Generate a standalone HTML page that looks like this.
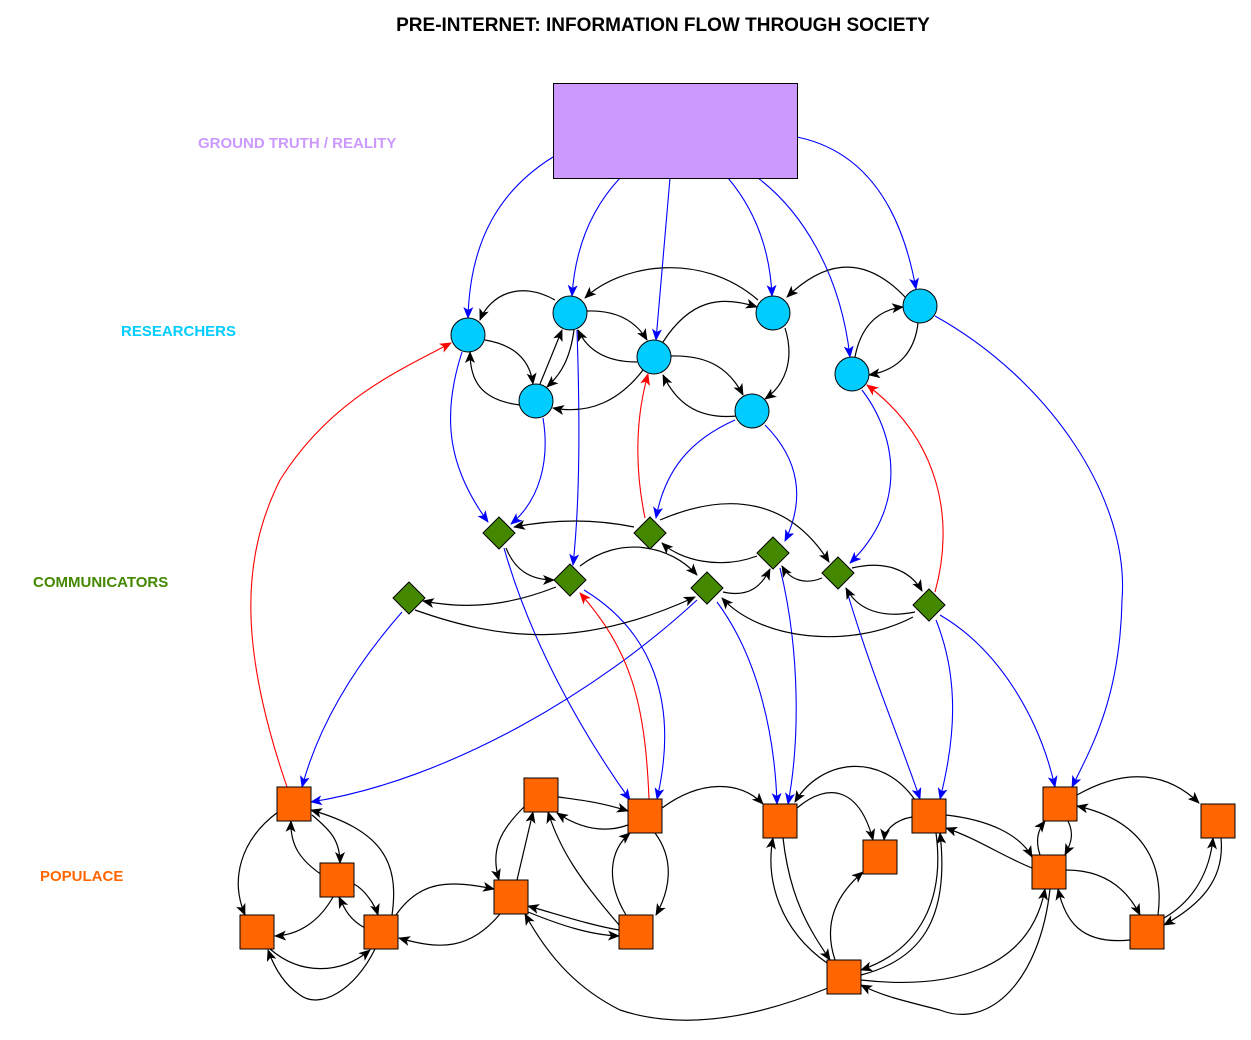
<!DOCTYPE html>
<html><head><meta charset="utf-8"><style>
body{margin:0;background:#fff}
svg{display:block}
text{font-family:"Liberation Sans",sans-serif;font-weight:bold}
</style></head><body>
<svg width="1251" height="1040" viewBox="0 0 1251 1040" xmlns="http://www.w3.org/2000/svg">
<defs>
<marker id="ak" viewBox="0 0 12 10" refX="11" refY="5" markerWidth="12" markerHeight="10" markerUnits="userSpaceOnUse" orient="auto"><path d="M0,0 L12,5 L0,10 L3,5 z" fill="#000"/></marker>
<marker id="ab" viewBox="0 0 12 10" refX="11" refY="5" markerWidth="12" markerHeight="10" markerUnits="userSpaceOnUse" orient="auto"><path d="M0,0 L12,5 L0,10 L3,5 z" fill="#00f"/></marker>
<marker id="ar" viewBox="0 0 12 10" refX="11" refY="5" markerWidth="12" markerHeight="10" markerUnits="userSpaceOnUse" orient="auto"><path d="M0,0 L12,5 L0,10 L3,5 z" fill="#f00"/></marker>
</defs>
<rect width="1251" height="1040" fill="#fff"/>
<text x="663" y="31" font-size="19" text-anchor="middle" fill="#000">PRE-INTERNET: INFORMATION FLOW THROUGH SOCIETY</text>
<text x="198" y="148" font-size="15" fill="#cc99ff">GROUND TRUTH / REALITY</text>
<text x="121" y="336" font-size="15" fill="#00ccff">RESEARCHERS</text>
<text x="33" y="587" font-size="15" fill="#448800">COMMUNICATORS</text>
<text x="40" y="881" font-size="15" fill="#ff6600">POPULACE</text>

<g fill="none" stroke="#00f" stroke-width="1.1" marker-end="url(#ab)">
<path d="M553,157 C500,190 470,240 468,318"/>
<path d="M620,178 C590,210 575,250 572,296"/>
<path d="M670,178 L656,340"/>
<path d="M728,178 C755,210 770,250 772,296"/>
<path d="M758,178 C800,210 840,270 850,357"/>
<path d="M797,137 C860,150 900,200 916,289"/>
<path d="M462,352 C440,420 450,470 488,522"/>
<path d="M543,418 C550,460 540,500 511,524"/>
<path d="M577,330 C580,420 580,500 573,565"/>
<path d="M735,420 C690,440 665,470 656,518"/>
<path d="M765,425 C800,460 805,500 785,541"/>
<path d="M862,390 C900,440 905,510 850,563"/>
<path d="M935,316 C1050,380 1130,500 1122,600 C1120,700 1090,750 1072,787"/>
<path d="M402,612 C360,660 320,720 302,787"/>
<path d="M697,600 C600,690 450,780 311,802"/>
<path d="M504,548 C530,640 580,730 630,800"/>
<path d="M584,590 C650,630 680,700 657,799"/>
<path d="M717,602 C760,660 775,740 777,804"/>
<path d="M780,568 C800,650 800,740 788,804"/>
<path d="M846,588 C870,670 900,740 920,799"/>
<path d="M936,620 C960,680 955,740 940,799"/>
<path d="M940,615 C1000,650 1040,720 1055,787"/>
</g>
<g fill="none" stroke="#f00" stroke-width="1.1" marker-end="url(#ar)">
<path d="M645,518 C635,470 635,420 648,374"/>
<path d="M935,592 C955,520 940,440 867,385"/>
<path d="M287,787 C240,650 240,560 280,480 C330,400 400,370 451,343"/>
<path d="M649,799 C645,700 630,650 580,593"/>
</g>
<g fill="none" stroke="#000" stroke-width="1.2" marker-end="url(#ak)">
<path d="M555,300 C520,280 490,295 480,320"/>
<path d="M485,340 C515,345 530,360 533,384"/>
<path d="M520,405 C480,400 470,380 470,352"/>
<path d="M540,384 L562,330"/>
<path d="M574,330 C570,360 560,375 547,387"/>
<path d="M643,370 C620,400 590,415 553,408"/>
<path d="M587,311 C615,310 635,320 647,340"/>
<path d="M637,362 C600,362 585,345 578,330"/>
<path d="M663,342 C690,300 720,295 757,307"/>
<path d="M758,300 C700,250 620,265 585,298"/>
<path d="M671,356 C710,355 730,370 743,395"/>
<path d="M737,416 C695,420 675,400 663,375"/>
<path d="M785,328 C795,360 785,385 765,399"/>
<path d="M905,297 C860,250 820,265 787,297"/>
<path d="M855,357 C860,330 875,310 903,307"/>
<path d="M918,323 C915,350 900,370 869,375"/>
<path d="M634,527 C600,520 560,518 514,527"/>
<path d="M506,548 C515,570 530,580 554,580"/>
<path d="M660,520 C730,490 790,500 829,562"/>
<path d="M757,556 C720,570 680,560 662,543"/>
<path d="M580,566 C620,535 670,545 697,575"/>
<path d="M723,592 C750,598 762,585 770,569"/>
<path d="M822,578 C805,585 790,580 782,566"/>
<path d="M852,568 C885,560 910,570 922,591"/>
<path d="M915,612 C875,620 855,605 846,588"/>
<path d="M556,587 C510,605 470,610 423,601"/>
<path d="M415,610 C500,640 580,650 695,597"/>
<path d="M913,617 C850,650 760,640 722,598"/>
<path d="M312,815 C330,830 340,840 340,863"/>
<path d="M322,875 C300,860 290,845 291,821"/>
<path d="M278,812 C240,840 230,880 245,915"/>
<path d="M333,897 C320,920 300,935 275,936"/>
<path d="M354,884 C365,890 375,905 378,915"/>
<path d="M392,915 C400,860 380,830 311,810"/>
<path d="M365,928 C350,920 345,910 339,897"/>
<path d="M270,949 C300,975 340,975 370,950"/>
<path d="M375,949 C355,990 320,1010 300,995 C285,985 275,970 268,950"/>
<path d="M396,915 C420,880 450,880 494,889"/>
<path d="M500,914 C470,950 440,950 399,938"/>
<path d="M526,805 C500,830 490,850 499,880"/>
<path d="M517,880 L533,812"/>
<path d="M558,797 C580,800 600,802 628,811"/>
<path d="M628,825 C600,835 575,825 557,813"/>
<path d="M620,926 C580,880 560,850 548,812"/>
<path d="M626,915 C605,880 610,850 630,833"/>
<path d="M655,833 C675,860 670,890 656,915"/>
<path d="M619,930 C590,925 560,915 528,906"/>
<path d="M528,912 C560,925 590,935 619,936"/>
<path d="M662,808 C700,780 740,780 763,804"/>
<path d="M828,988 C750,1020 680,1030 620,1010 C580,990 550,960 525,914"/>
<path d="M783,838 C790,900 810,930 830,960"/>
<path d="M827,963 C780,930 765,880 773,838"/>
<path d="M797,808 C830,780 860,790 873,840"/>
<path d="M915,800 C880,750 820,760 795,802"/>
<path d="M912,817 C895,820 885,830 884,840"/>
<path d="M835,960 C825,930 830,900 863,872"/>
<path d="M936,833 C945,900 920,950 861,970"/>
<path d="M861,975 C920,960 950,920 940,833"/>
<path d="M861,980 C950,990 1030,970 1045,889"/>
<path d="M1050,889 C1040,980 990,1030 940,1010 C900,1000 880,995 861,985"/>
<path d="M946,815 C990,820 1020,835 1032,857"/>
<path d="M1032,868 C1000,855 980,840 946,828"/>
<path d="M1068,821 C1075,835 1070,845 1065,855"/>
<path d="M1040,855 C1035,840 1038,830 1045,821"/>
<path d="M1077,795 C1130,765 1170,775 1199,803"/>
<path d="M1158,915 C1165,860 1140,820 1077,806"/>
<path d="M1066,870 C1100,870 1125,885 1140,915"/>
<path d="M1130,940 C1080,945 1065,920 1058,889"/>
<path d="M1221,838 C1225,880 1200,905 1164,925"/>
<path d="M1164,918 C1195,900 1210,870 1213,838"/>
</g>

<rect x="553.5" y="83.5" width="244" height="95" fill="#cc99ff" stroke="#000"/>
<g fill="#00ccff" stroke="#000" stroke-width="1">
<circle cx="468" cy="335" r="17"/><circle cx="570" cy="313" r="17"/>
<circle cx="654" cy="357" r="17"/><circle cx="773" cy="313" r="17"/>
<circle cx="536" cy="401" r="17"/><circle cx="752" cy="411" r="17"/>
<circle cx="920" cy="306" r="17"/><circle cx="852" cy="374" r="17"/>
</g>
<g fill="#448800" stroke="#000" stroke-width="1">
<path d="M499,517 L515,533 L499,549 L483,533 z"/>
<path d="M650,517 L666,533 L650,549 L634,533 z"/>
<path d="M773,537 L789,553 L773,569 L757,553 z"/>
<path d="M838,557 L854,573 L838,589 L822,573 z"/>
<path d="M570,564 L586,580 L570,596 L554,580 z"/>
<path d="M707,572 L723,588 L707,604 L691,588 z"/>
<path d="M409,582 L425,598 L409,614 L393,598 z"/>
<path d="M929,589 L945,605 L929,621 L913,605 z"/>
</g>
<g fill="#ff6600" stroke="#000" stroke-width="1">
<rect x="277" y="787" width="34" height="34"/>
<rect x="320" y="863" width="34" height="34"/>
<rect x="240" y="915" width="34" height="34"/>
<rect x="364" y="915" width="34" height="34"/>
<rect x="524" y="778" width="34" height="34"/>
<rect x="628" y="799" width="34" height="34"/>
<rect x="494" y="880" width="34" height="34"/>
<rect x="619" y="915" width="34" height="34"/>
<rect x="763" y="804" width="34" height="34"/>
<rect x="863" y="840" width="34" height="34"/>
<rect x="912" y="799" width="34" height="34"/>
<rect x="827" y="960" width="34" height="34"/>
<rect x="1043" y="787" width="34" height="34"/>
<rect x="1032" y="855" width="34" height="34"/>
<rect x="1201" y="804" width="34" height="34"/>
<rect x="1130" y="915" width="34" height="34"/>
</g>
</svg>
</body></html>
